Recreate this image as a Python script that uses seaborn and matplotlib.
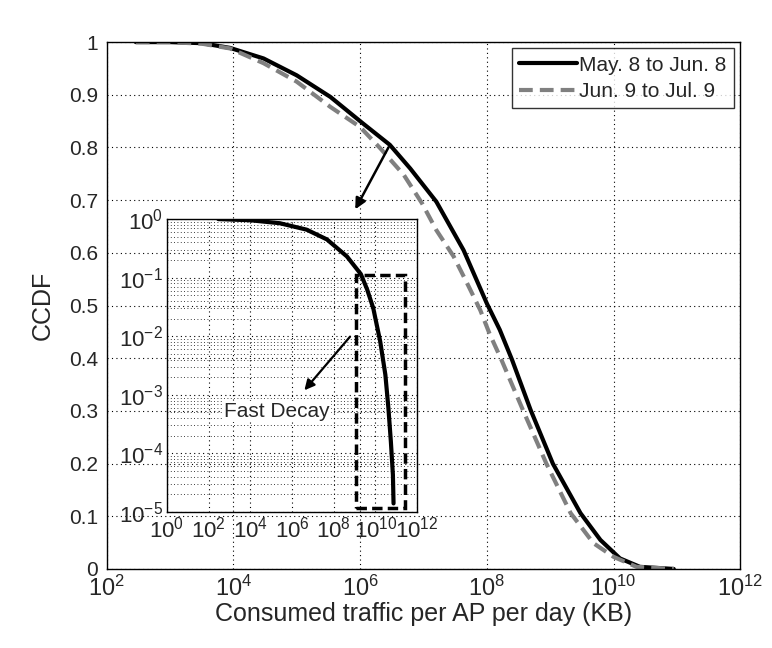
import numpy as np
import pandas as pd
import matplotlib
matplotlib.use("Agg")
import matplotlib.pyplot as plt
from matplotlib.patches import Rectangle
from matplotlib.ticker import LogLocator, NullFormatter
import seaborn as sns

# Main CCDF curves
x_may = [2.9e2, 1e3, 3.2e3, 8.9e3, 3.0e4, 1e5, 3.4e5, 1.1e6, 2.95e6, 6.2e6, 1.6e7,
         4.3e7, 1e8, 1.6e8, 2.5e8, 4.9e8, 1.1e9, 3.0e9, 6.2e9, 1.26e10, 2.6e10, 8.9e10]
y_may = [1.0, 1.0, 0.998, 0.989, 0.969, 0.937, 0.896, 0.846, 0.805, 0.760, 0.697,
         0.605, 0.504, 0.454, 0.397, 0.302, 0.200, 0.106, 0.055, 0.020, 0.004, 0.0]
x_jun = [2.9e2, 1e3, 3.2e3, 8.9e3, 3.0e4, 1e5, 3.4e5, 1e6, 2.1e6, 4.9e6, 9.5e6, 1.6e7,
         3.0e7, 4.9e7, 7.9e7, 1.1e8, 1.7e8, 3.7e8, 8.7e8, 2.1e9, 4.8e9, 1e10, 2.3e10, 8.9e10]
y_jun = [1.0, 1.0, 0.997, 0.988, 0.960, 0.925, 0.877, 0.839, 0.798, 0.748, 0.694, 0.643,
         0.593, 0.542, 0.491, 0.447, 0.397, 0.302, 0.200, 0.106, 0.049, 0.023, 0.004, 0.0]
labels = ["May. 8 to Jun. 8", "Jun. 9 to Jul. 9"]

# Inset (log-log) curve
x_inset = [2.9e2, 1e4, 2.6e5, 5e6, 4.7e7, 4.3e8, 2.0e9, 4.0e9, 7.9e9, 1.7e10,
           3.0e10, 4.2e10, 5.5e10, 6.9e10, 7.4e10]
y_inset = [1.0, 0.955, 0.85, 0.66, 0.45, 0.23, 0.115, 0.063, 0.030, 8.1e-3,
           2.2e-3, 5.9e-4, 1.6e-4, 4.3e-5, 1.4e-5]

# "Fast Decay" box in inset data coordinates
box_x = (1.2e9, 2.5e11)
box_y = (1.17e-5, 0.112)

sns.set_style("white")
plt.rcParams["font.family"] = ["Liberation Sans", "DejaVu Sans"]
plt.rcParams["mathtext.fontset"] = "custom"
plt.rcParams["mathtext.rm"] = "Liberation Sans"
plt.rcParams["mathtext.it"] = "Liberation Sans:italic"
plt.rcParams["mathtext.bf"] = "Liberation Sans:bold"
plt.rcParams["lines.solid_joinstyle"] = "round"
plt.rcParams["lines.dash_joinstyle"] = "round"

df = pd.concat([
    pd.DataFrame({"x": x_may, "y": y_may, "period": labels[0]}),
    pd.DataFrame({"x": x_jun, "y": y_jun, "period": labels[1]}),
])

fig = plt.figure(figsize=(7.72, 6.48), dpi=100)
ax = fig.add_axes([0.138, 0.122, 0.821, 0.813])

sns.lineplot(data=df, x="x", y="y", hue="period", style="period",
             palette={labels[0]: "black", labels[1]: "#808080"},
             dashes={labels[0]: "", labels[1]: (3.3, 1.7)},
             linewidth=3, sort=False, ax=ax)
ax.set_xscale("log")
ax.set_xlim(1e2, 1e12)
ax.set_ylim(0, 1)
ax.set_xticks([1e2, 1e4, 1e6, 1e8, 1e10, 1e12])
ax.xaxis.set_minor_locator(plt.NullLocator())
ax.set_yticks(np.arange(0, 1.01, 0.1))
ax.set_yticklabels(["0", "0.1", "0.2", "0.3", "0.4", "0.5", "0.6", "0.7", "0.8", "0.9", "1"])
ax.grid(True, which="major", linestyle=(0, (1, 3)), color="black", linewidth=0.8)
ax.tick_params(axis="y", labelsize=15, length=0, pad=6)
ax.tick_params(axis="x", labelsize=17, length=0, pad=5)
ax.set_xlabel("Consumed traffic per AP per day (KB)", fontsize=18, labelpad=1)
ax.set_ylabel("CCDF", fontsize=18, labelpad=10)
for s in ax.spines.values():
    s.set_color("black")
    s.set_linewidth(1)

leg = ax.legend(loc="upper right", fontsize=15, frameon=True, fancybox=False,
                handlelength=2.8, handletextpad=0.1, borderpad=0.35,
                labelspacing=0.35, borderaxespad=0.3)
leg.get_frame().set_edgecolor("black")
leg.get_frame().set_linewidth(1)
for h in leg.get_lines():
    h.set_linewidth(3)

ax.annotate("", xy=(8e5, 0.678), xytext=(2.95e6, 0.805),
            arrowprops=dict(arrowstyle="-|>", color="black", lw=1.8,
                            mutation_scale=16))

# Inset (transparent, main grid shows through as in the original)
axin = fig.add_axes([0.2163, 0.2099, 0.324, 0.452])
axin.set_facecolor("none")
sns.lineplot(x=x_inset, y=y_inset, color="black", linewidth=3, sort=False, ax=axin)
axin.set_xscale("log")
axin.set_yscale("log")
axin.set_xlim(1e0, 1e12)
axin.set_ylim(1e-5, 1e0)
axin.set_xticks([1e0, 1e2, 1e4, 1e6, 1e8, 1e10, 1e12])
axin.xaxis.set_minor_locator(plt.NullLocator())
axin.set_yticks([1e-5, 1e-4, 1e-3, 1e-2, 1e-1, 1e0])
axin.yaxis.set_minor_locator(LogLocator(base=10, subs=np.arange(2, 10), numticks=20))
axin.yaxis.set_minor_formatter(NullFormatter())
axin.grid(True, which="major", linestyle=(0, (1, 3)), color="black", linewidth=0.8)
axin.grid(True, which="minor", axis="y", linestyle=(0, (1, 3)), color="black", linewidth=0.6)
axin.tick_params(which="both", labelsize=16, length=0, pad=3)
for s in axin.spines.values():
    s.set_color("black")
    s.set_linewidth(1)

axin.add_patch(Rectangle((box_x[0], box_y[0]), box_x[1] - box_x[0], box_y[1] - box_y[0],
                         fill=False, edgecolor="black", linewidth=2.5,
                         linestyle=(0, (3, 1.5)), zorder=5))
axin.annotate("", xy=(3.2e6, 1.1e-3), xytext=(7.4e8, 1.07e-2),
              arrowprops=dict(arrowstyle="-|>", color="black", lw=1.6,
                              mutation_scale=15))
axin.text(1.8e5, 5.2e-4, "Fast Decay", fontsize=15, ha="center", va="center",
          bbox=dict(facecolor="white", edgecolor="none", pad=1))

fig.savefig("out.png", dpi=100)
